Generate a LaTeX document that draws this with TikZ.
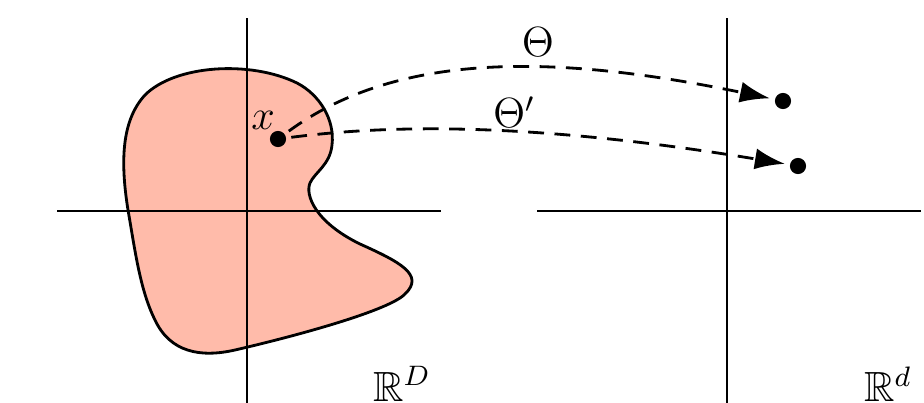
\documentclass[tikz,border=0pt]{standalone}
\usepackage{amsmath,amssymb}
\usepackage{tikz}
\usetikzlibrary{arrows.meta,positioning}
\definecolor{blobsalmon}{RGB}{255,187,170}
\tikzset{
    % axes and the region
    axis/.style={line width=0.4pt, black},
    region/.style={draw=black, fill=blobsalmon, line width=0.8pt},
    % points and maps
    pt/.style={circle, fill=black, minimum size=4.6pt, inner sep=0pt, outer sep=1.5pt},
    maparc/.style={-{Latex[length=8.5pt,width=6pt]}, line width=0.8pt,
                   dash pattern=on 4.5pt off 3pt},
}

\begin{document}
\begin{tikzpicture}[x=0.01cm,y=-0.01cm,
   lab/.style={font=\large}]
  \useasboundingbox (0,0) rectangle (924,403);

  % the region in R^D
  \draw[region] (310,183)
     .. controls (305,195) and (315,222) .. (360,244)
     .. controls (400,262) and (425,275) .. (405,294)
     .. controls (390,310) and (300,335) .. (235,350)
     .. controls (200,358) and (170,352) .. (155,320)
     .. controls (140,290) and (135,250) .. (128,210)
     .. controls (120,160) and (122,120) .. (145,95)
     .. controls (175,65) and (250,60) .. (297,83)
     .. controls (320,95) and (335,120) .. (332,145)
     .. controls (330,165) and (315,172) .. (310,183) -- cycle;

  % axes
  \draw[axis] (247,18) -- (247,403);
  \draw[axis] (57,211) -- (441,211);
  \draw[axis] (727,18) -- (727,403);
  \draw[axis] (537,211) -- (921,211);

  % points
  \node[pt] (x) at (278,139) {};
  \node[lab] at (263,120) {$x$};
  \node[pt] (y1) at (783,101) {};
  \node[pt] (y2) at (798,166) {};

  % the two maps
  \draw[maparc] (x) .. controls (400,50) and (560,55) .. (y1);
  \draw[maparc] (x) .. controls (380,126) and (520,120) .. (y2);
  \node[lab] at (538,42) {$\Theta$};
  \node[lab] at (514,112) {$\Theta'$};

  % spaces
  \node[lab] at (402,384) {$\mathbb{R}^D$};
  \node[lab] at (888,384) {$\mathbb{R}^d$};
\end{tikzpicture}
\end{document}
